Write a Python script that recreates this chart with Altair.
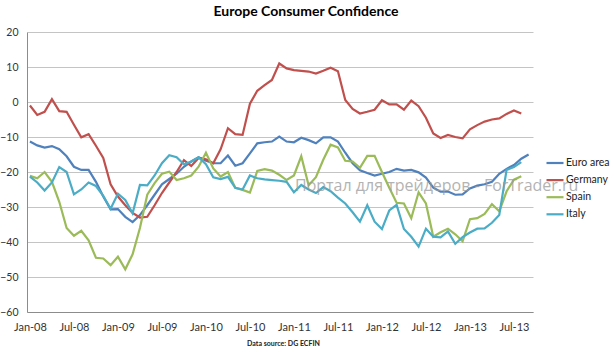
import json
import altair as alt
import pandas as pd

# ---------------- data ----------------
months = list(pd.date_range("2008-01-01", "2013-09-01", freq="MS").strftime("%b-%y"))

euro_area = [-11.3, -12.4, -13.0, -12.6, -13.5, -15.5, -18.5, -19.4, -19.4, -22.8,
             -27.0, -30.7, -30.6, -32.8, -34.3, -32.3, -29.5, -26.5, -23.5, -22.0,
             -20.5, -18.5, -17.0, -15.8, -16.8, -17.5, -17.5, -15.3, -18.2, -17.5,
             -14.7, -11.8, -11.5, -11.3, -9.9, -11.3, -11.5, -10.2, -10.9, -11.8,
             -10.1, -10.1, -11.3, -14.5, -17.5, -19.5, -20.3, -21.0, -20.5, -20.0,
             -19.1, -19.6, -19.4, -20.1, -21.6, -24.5, -25.6, -25.6, -26.5, -26.4,
             -24.7, -23.9, -23.5, -22.8, -20.5, -19.1, -18.0, -16.2, -15.0]

germany = [-1.0, -3.7, -2.8, 0.8, -2.6, -2.8, -6.5, -10.1, -9.2, -12.5,
           -16.0, -23.5, -27.0, -29.5, -31.7, -33.0, -32.8, -29.5, -26.0, -23.0,
           -20.0, -16.6, -18.3, -16.0, -16.4, -17.5, -13.5, -7.5, -9.2, -9.4,
           -0.5, 3.2, 4.8, 6.3, 11.0, 9.6, 9.1, 8.9, 8.7, 8.1,
           8.9, 9.8, 8.8, 0.6, -2.0, -3.3, -2.8, -2.2, 0.5, -0.7,
           -0.7, -2.2, 0.4, -1.2, -4.5, -9.0, -10.3, -9.4, -10.0, -10.4,
           -7.8, -6.6, -5.6, -5.0, -4.7, -3.4, -2.4, -3.3]

spain = [-21.1, -21.8, -20.0, -22.8, -28.5, -36.0, -38.2, -36.8, -39.5, -44.5,
         -44.7, -46.6, -44.2, -47.8, -43.5, -36.0, -26.5, -23.2, -20.5, -19.9,
         -22.3, -21.8, -21.0, -18.5, -14.5, -19.0, -21.3, -20.0, -24.5, -25.1,
         -25.9, -19.7, -19.2, -19.6, -20.8, -22.3, -21.0, -15.5, -23.8, -21.5,
         -16.5, -12.2, -13.0, -16.8, -17.0, -18.8, -15.4, -15.4, -20.0, -24.5,
         -28.8, -29.0, -33.2, -25.8, -29.0, -38.5, -37.2, -36.2, -37.8, -39.8,
         -33.5, -33.2, -32.0, -29.2, -31.2, -25.5, -22.2, -21.2]

italy = [-21.3, -23.0, -25.3, -23.0, -18.6, -20.0, -26.4, -25.0, -23.0, -24.0,
         -26.8, -30.5, -26.2, -28.0, -31.8, -23.7, -23.8, -21.0, -17.5, -15.2,
         -15.8, -17.8, -17.0, -15.8, -17.8, -21.5, -22.0, -21.4, -24.5, -25.0,
         -21.0, -21.8, -22.1, -22.3, -22.5, -22.8, -25.8, -23.7, -25.0, -26.0,
         -24.3, -25.5, -27.3, -29.0, -31.5, -34.2, -29.5, -34.2, -36.3, -31.0,
         -29.4, -36.3, -38.5, -41.3, -36.2, -38.5, -38.7, -37.0, -40.5, -38.6,
         -37.3, -36.2, -36.1, -34.5, -32.3, -19.4, -18.6, -17.2]

series_names = ["Euro area", "Germany", "Spain", "Italy"]
series_values = [euro_area, germany, spain, italy]
series_colors = ["#4F81BD", "#C0504D", "#9BBB59", "#4BACC6"]

# one axis label every six months (index into months)
x_tick_index = [0, 6, 12, 18, 24, 30, 36, 42, 48, 54, 60, 66]
y_ticks = [-60, -50, -40, -30, -20, -10, 0, 10, 20]

title_text = "Europe Consumer Confidence"
source_text = "Data source: DG ECFIN"
watermark_text = "Портал для трейдеров - ForTrader.ru"

# ---------------- tables ----------------
rows = []
for name, vals in zip(series_names, series_values):
    for i, v in enumerate(vals):
        rows.append({"t": i, "month": months[i], "value": v, "series": name})
df = pd.DataFrame(rows)
wm_df = pd.DataFrame({"text": [watermark_text]})

FONT = "Lato"
label_expr = json.dumps(months) + "[datum.value]"

lines = alt.Chart(df).mark_line(strokeWidth=2.2, interpolate="linear").encode(
    x=alt.X("t:Q",
            scale=alt.Scale(domain=[-0.4, len(months) - 0.4], nice=False, zero=False),
            axis=alt.Axis(values=x_tick_index, labelExpr=label_expr,
                          orient="bottom", grid=False, ticks=False, tickSize=0,
                          labelPadding=9, labelFontSize=11, labelFont=FONT,
                          labelColor="#333333", domain=True, domainColor="#8C8C8C",
                          labelOverlap=False, labelFlush=False,
                          title=source_text, titleFontSize=7, titleFont=FONT,
                          titleFontWeight="bold", titleColor="#222222",
                          titleX=256, titleY=31, titleAlign="center",
                          titleBaseline="middle")),
    y=alt.Y("value:Q",
            scale=alt.Scale(domain=[-60, 20], nice=False, zero=False),
            axis=alt.Axis(values=y_ticks, title=None, ticks=False, tickSize=0,
                          labelPadding=9, labelFontSize=10.5, labelFont=FONT,
                          labelColor="#333333", grid=True, gridColor="#C4C4C4",
                          gridWidth=1, domain=True, domainColor="#8C8C8C",
                          domainWidth=1)),
    color=alt.Color("series:N",
                    scale=alt.Scale(domain=series_names, range=series_colors),
                    sort=series_names,
                    legend=alt.Legend(title=None, orient="none", legendX=518, legendY=121,
                                      symbolType="stroke", symbolSize=289,
                                      symbolStrokeWidth=2.2, labelFontSize=10.5,
                                      labelFont=FONT, labelColor="#222222",
                                      rowPadding=1.1, labelOffset=1, labelLimit=60)),
    order=alt.Order("t:Q"),
)

watermark = alt.Chart(wm_df).mark_text(
    align="left", baseline="middle", fontSize=16, font="Open Sans",
    color="#9A9A9A", opacity=0.75,
).encode(
    text="text:N",
    x=alt.value(268),
    y=alt.value(154),
)

chart = alt.layer(lines, watermark).properties(
    width=506, height=280,
    autosize=alt.AutoSizeParams(type="none"),
    padding={"left": 27, "top": 32, "right": 77, "bottom": 38},
    title=alt.TitleParams(title_text, font=FONT, fontSize=14, fontWeight="bold",
                          color="#000000", anchor="middle", frame="group",
                          dx=26, offset=8),
    background="white",
).configure_view(stroke=None)

chart.save("out.html", embed_options={"renderer": "svg", "actions": False})
